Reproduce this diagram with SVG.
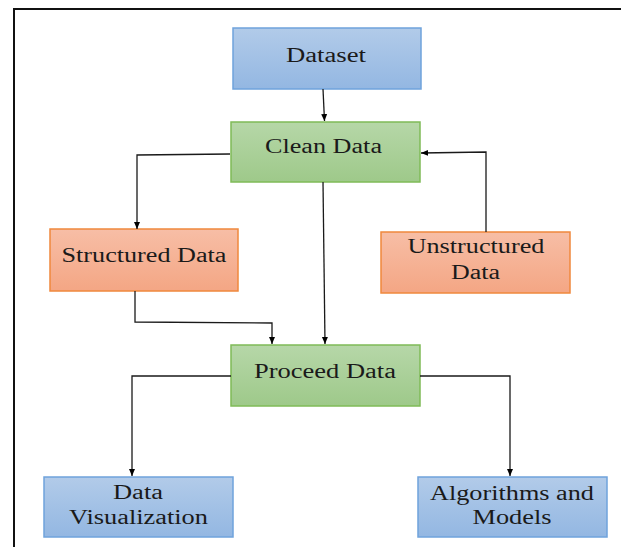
<svg xmlns="http://www.w3.org/2000/svg" width="622" height="547" viewBox="0 0 622 547">
<defs>
<linearGradient id="gBlue" x1="0" y1="0" x2="0" y2="1"><stop offset="0" stop-color="#b2cbe9"/><stop offset="1" stop-color="#93b7e2"/></linearGradient>
<linearGradient id="gGreen" x1="0" y1="0" x2="0" y2="1"><stop offset="0" stop-color="#b6d7a8"/><stop offset="1" stop-color="#9ec98a"/></linearGradient>
<linearGradient id="gOrange" x1="0" y1="0" x2="0" y2="1"><stop offset="0" stop-color="#f7bea6"/><stop offset="1" stop-color="#f4a684"/></linearGradient>
<marker id="arr" markerWidth="8" markerHeight="8" refX="7" refY="4" orient="auto" markerUnits="userSpaceOnUse"><path d="M0,1 L7,4 L0,7 Z" fill="#000"/></marker>
<style>
.blue{fill:url(#gBlue);stroke:#6fa3dc;stroke-width:1.5}
.green{fill:url(#gGreen);stroke:#7fbb57;stroke-width:1.5}
.orange{fill:url(#gOrange);stroke:#f0883d;stroke-width:1.5}
text{font-family:"Liberation Serif","Times New Roman",serif;font-size:20px;fill:#1a1a1a;text-anchor:middle}
.c{fill:none;stroke:#1a1a1a;stroke-width:1.3;marker-end:url(#arr)}
</style>
</defs>
<rect x="0" y="0" width="622" height="547" fill="#fff"/>
<path d="M14,548 V9 H621" fill="none" stroke="#111" stroke-width="2"/>
<g id="dataset"><rect class="blue" x="233" y="28" width="188" height="61"/><text x="326" y="62" textLength="80" lengthAdjust="spacingAndGlyphs">Dataset</text></g>
<g id="clean"><rect class="green" x="231" y="122" width="189" height="60"/><text x="323.5" y="153" textLength="117" lengthAdjust="spacingAndGlyphs">Clean Data</text></g>
<g id="structured"><rect class="orange" x="50" y="229" width="188" height="62"/><text x="144" y="262" textLength="165" lengthAdjust="spacingAndGlyphs">Structured Data</text></g>
<g id="unstructured"><rect class="orange" x="381" y="232" width="189" height="61"/><text x="476" y="253" textLength="137" lengthAdjust="spacingAndGlyphs">Unstructured</text><text x="475.5" y="279" textLength="49" lengthAdjust="spacingAndGlyphs">Data</text></g>
<g id="proceed"><rect class="green" x="231" y="345" width="189" height="61"/><text x="325" y="378" textLength="142" lengthAdjust="spacingAndGlyphs">Proceed Data</text></g>
<g id="viz"><rect class="blue" x="44" y="477" width="189" height="60"/><text x="138" y="499" textLength="50" lengthAdjust="spacingAndGlyphs">Data</text><text x="138.5" y="524" textLength="139" lengthAdjust="spacingAndGlyphs">Visualization</text></g>
<g id="algo"><rect class="blue" x="418" y="477" width="189" height="60"/><text x="512" y="500" textLength="164" lengthAdjust="spacingAndGlyphs">Algorithms and</text><text x="512" y="524" textLength="79" lengthAdjust="spacingAndGlyphs">Models</text></g>
<g id="connectors">
<path class="c" d="M323,89 L324.5,121"/>
<path class="c" d="M230,154 L137,155 V229"/>
<path class="c" d="M486,232 V152 L421,153"/>
<path class="c" d="M323,182 L325,344"/>
<path class="c" d="M135,291 V322 L272,323 V344"/>
<path class="c" d="M231,376 H132 V476"/>
<path class="c" d="M420,376 H510 V476"/>
</g>
</svg>
